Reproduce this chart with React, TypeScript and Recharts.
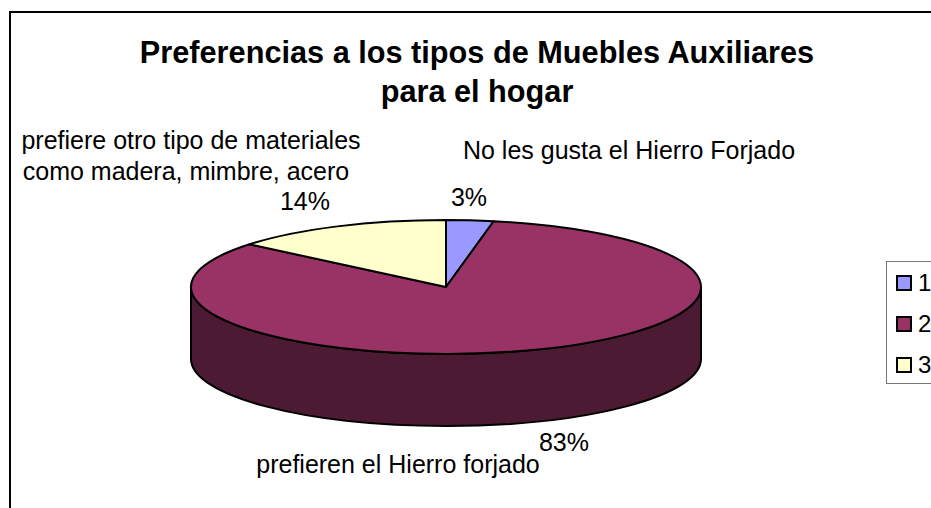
import React from "react";
import { PieChart, Pie, Cell, Legend } from "recharts";

const categories = ["1", "2", "3"];
const values = [3, 83, 14];
const colors = ["#9999FF", "#993366", "#FFFFCC"];
const wallColor = "#4C1A33";
const labelLines = [
  ["No les gusta el Hierro Forjado"],
  ["prefieren el Hierro forjado"],
  ["prefiere otro tipo de materiales", "como madera, mimbre, acero"],
];
const titleLines = ["Preferencias a los tipos de Muebles Auxiliares", "para el hogar"];

const data = categories.map((name, i) => ({ name, value: values[i] }));

const FONT = '"Liberation Sans", Arial, sans-serif';
const SQUASH = 67 / 255;
const DEPTH = 72;
const RAD = Math.PI / 180;

function point(cx: number, cy: number, r: number, deg: number) {
  return [cx + r * Math.cos(deg * RAD), cy - r * SQUASH * Math.sin(deg * RAD)];
}

function TopShape(props: any) {
  const { cx, cy, outerRadius: r, startAngle, endAngle, fill } = props;
  const [x0, y0] = point(cx, cy, r, startAngle);
  const [x1, y1] = point(cx, cy, r, endAngle);
  const large = Math.abs(startAngle - endAngle) > 180 ? 1 : 0;
  const d = `M${cx},${cy}L${x0},${y0}A${r},${r * SQUASH} 0 ${large} 1 ${x1},${y1}Z`;
  return <path d={d} fill={fill} stroke="#000" strokeWidth={2} strokeLinejoin="round" />;
}

function WallShape(props: any) {
  const { cx, cy, outerRadius: r, startAngle, endAngle, fill } = props;
  const a0 = Math.min(startAngle, 0);
  const a1 = Math.max(endAngle, -180);
  if (a0 <= a1) return <g />;
  const [x0, y0] = point(cx, cy, r, a0);
  const [x1, y1] = point(cx, cy, r, a1);
  const ry = r * SQUASH;
  const d = `M${x0},${y0}A${r},${ry} 0 0 1 ${x1},${y1}L${x1},${y1 + DEPTH}A${r},${ry} 0 0 0 ${x0},${y0 + DEPTH}Z`;
  return <path d={d} fill={fill} stroke="#000" strokeWidth={2} strokeLinejoin="round" />;
}

const namePlacement = [
  { x: 629, ys: [159] },
  { x: 398, ys: [473] },
  { x: 191, ys: [149, 180] },
];
const pctPlacement = [
  { x: 469, y: 206 },
  { x: 564, y: 451 },
  { x: 305, y: 210 },
];

function renderLabel(props: any) {
  const { index, percent } = props;
  const n = namePlacement[index];
  const p = pctPlacement[index];
  return (
    <g key={index}>
      {labelLines[index].map((t, i) => (
        <text key={i} x={index === 2 && i === 1 ? n.x - 5 : n.x} y={n.ys[i]} textAnchor="middle" fontFamily={FONT} fontSize={25} fill="#000">
          {t}
        </text>
      ))}
      <text x={p.x} y={p.y} textAnchor="middle" fontFamily={FONT} fontSize={25} fill="#000">
        {Math.round(percent * 100)}%
      </text>
    </g>
  );
}

function LegendBox({ payload }: any) {
  const items = (payload || []).filter((e: any) => e.color !== wallColor && e.type !== "none");
  return (
    <div style={{ position: "relative", width: 60, height: 123, boxSizing: "border-box", border: "1px solid #777", background: "#fff", fontFamily: FONT, fontSize: 24, color: "#000" }}>
      {items.map((e: any, i: number) => (
        <div key={i} style={{ position: "absolute", left: 9, top: 6 + i * 41, height: 30, display: "flex", alignItems: "center" }}>
          <span style={{ width: 12, height: 12, boxSizing: "content-box", border: "2px solid #000", background: e.color, display: "inline-block", marginRight: 6 }} />
          <span>{e.value}</span>
        </div>
      ))}
    </div>
  );
}

export default function App() {
  return (
    <div style={{ position: "absolute", left: 0, top: 0, width: 931, height: 508, overflow: "hidden", background: "#fff" }}>
      <div style={{ position: "absolute", left: 9, top: 11, width: 1000, height: 600, borderLeft: "2px solid #000", borderTop: "2px solid #000" }} />
      <div style={{ position: "absolute", left: 0, top: 0 }}>
        <PieChart width={931} height={508} margin={{ top: 0, right: 0, bottom: 0, left: 0 }}>
          <text x={477} y={63} textAnchor="middle" fontFamily={FONT} fontWeight="bold" fontSize={30.7} fill="#000">{titleLines[0]}</text>
          <text x={477} y={102} textAnchor="middle" fontFamily={FONT} fontWeight="bold" fontSize={30.7} fill="#000">{titleLines[1]}</text>
          <Pie data={data} dataKey="value" nameKey="name" cx={446} cy={287} outerRadius={255} startAngle={90} endAngle={-270} isAnimationActive={false} legendType="none" shape={WallShape} fill={wallColor} label={false} labelLine={false}>
            {categories.map((c) => (
              <Cell key={c} fill={wallColor} />
            ))}
          </Pie>
          <Pie data={data} dataKey="value" nameKey="name" cx={446} cy={287} outerRadius={255} startAngle={90} endAngle={-270} isAnimationActive={false} legendType="square" shape={TopShape} label={renderLabel} labelLine={false}>
            {categories.map((c, i) => (
              <Cell key={c} fill={colors[i]} />
            ))}
          </Pie>
          <Legend layout="vertical" content={<LegendBox />} wrapperStyle={{ position: "absolute", left: 886, top: 261, width: 60, height: 123, bottom: "auto", right: "auto" }} />
        </PieChart>
      </div>
    </div>
  );
}
